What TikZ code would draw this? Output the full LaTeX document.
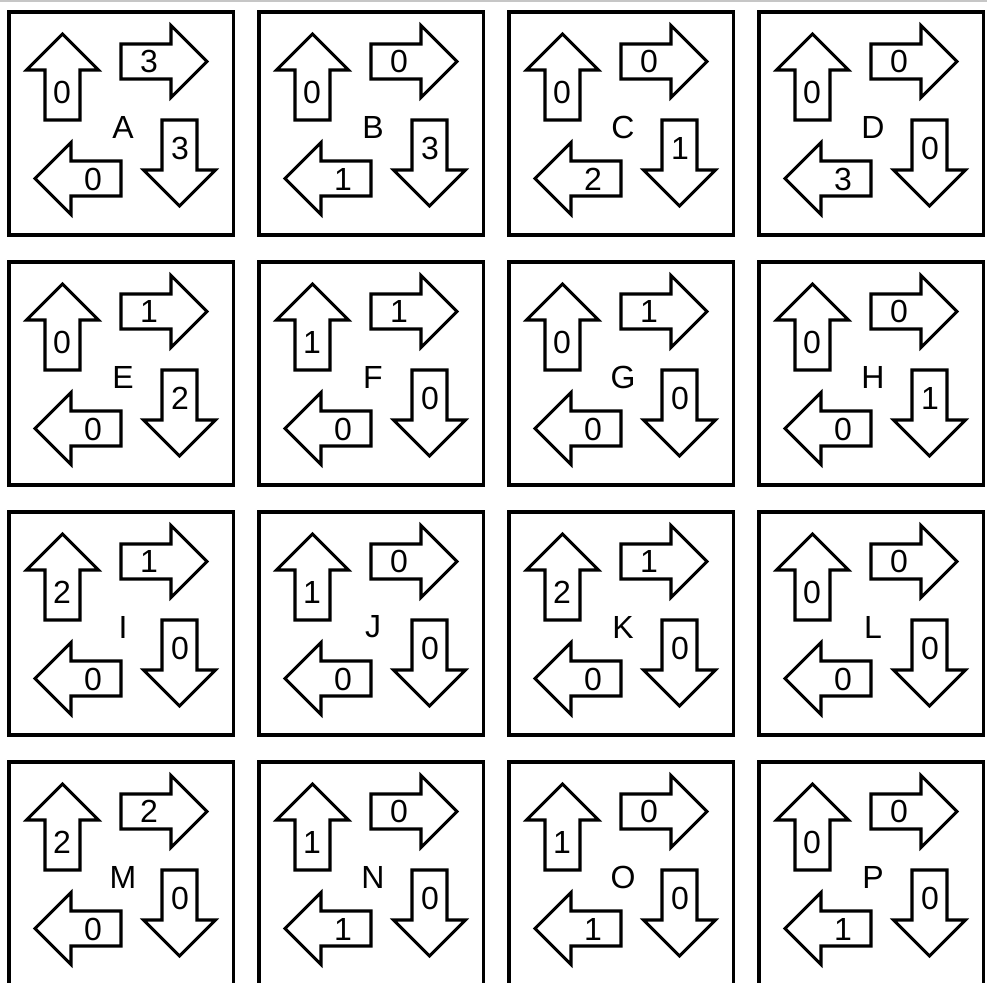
\documentclass[tikz,border=0pt]{standalone}
\usepackage{fontspec}
\setmainfont{Liberation Sans}
\begin{document}
\begin{tikzpicture}[x=0.75pt, y=0.75pt,
  cellbox/.style={line width=2.6pt},
  dirarrow/.style={line width=2.3pt, line join=miter},
  count/.style={font=\fontsize{24}{28}\selectfont, inner sep=0pt}]
\useasboundingbox (0,0) rectangle (987,-982);
\draw[gray!45, line width=1pt] (0,-1) -- (987,-1);
\foreach \name/\u/\r/\d/\l [count=\i from 0] in {A/0/3/3/0, B/0/0/3/1, C/0/0/1/2, D/0/0/0/3,
    E/0/1/2/0, F/1/1/0/0, G/0/1/0/0, H/0/0/1/0,
    I/2/1/0/0, J/1/0/0/0, K/2/1/0/0, L/0/0/0/0,
    M/2/2/0/0, N/1/0/0/1, O/1/0/0/1, P/0/0/0/1}{
  \pgfmathtruncatemacro\col{mod(\i,4)}
  \pgfmathtruncatemacro\row{div(\i,4)}
  \begin{scope}[shift={(250*\col+121,-250*\row-120)}]
    \draw[cellbox] (-112,108) rectangle (112.5,-115);
    \node[count] (\name) at (2,-7) {\name};
    % one arrow drawn pointing up, then turned for the other three sides
    \foreach \a/\v/\dir in {0/\u/up, -90/\r/right, 180/\d/down, 90/\l/left}{
      \begin{scope}[rotate=\a]
        \draw[dirarrow] (-76,0) -- (-41,0) -- (-41,50) -- (-22.5,50)
          -- (-58.5,86) -- (-94.5,50) -- (-76,50) -- cycle;
        \node[count] (\name-\dir) at (-59,28) {\v};
      \end{scope}
    }
  \end{scope}
}
\end{tikzpicture}
\end{document}
